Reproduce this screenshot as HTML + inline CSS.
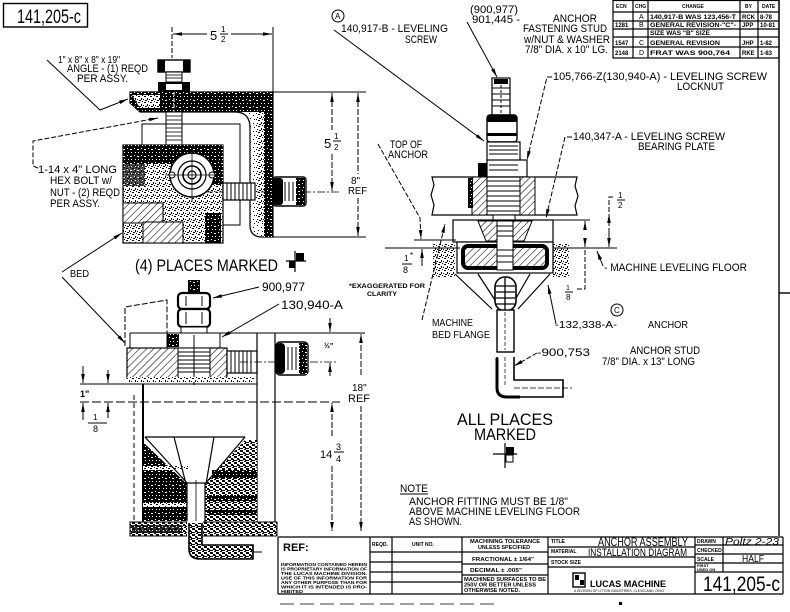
<!DOCTYPE html>
<html><head><meta charset="utf-8"><style>
html,body{margin:0;padding:0;background:#fff;}
svg{display:block;}
text{font-family:"Liberation Sans",sans-serif;fill:#000;}
.t{font-size:11px;}
.s{font-size:5px;font-weight:bold;}
</style></head><body>
<svg width="790" height="612" viewBox="0 0 790 612" xmlns="http://www.w3.org/2000/svg">
<defs>
<marker id="ar" viewBox="0 0 10 4" refX="10" refY="2" markerWidth="9" markerHeight="3.6" orient="auto-start-reverse" markerUnits="userSpaceOnUse"><path d="M0,0 L10,2 L0,4 z" fill="#000"/></marker>
<pattern id="hatch" width="5" height="5" patternUnits="userSpaceOnUse" patternTransform="rotate(45)"><rect width="5" height="5" fill="#fff"/><line x1="0" y1="0" x2="0" y2="5" stroke="#000" stroke-width="1.1"/></pattern>
<pattern id="spd" width="7" height="7" patternUnits="userSpaceOnUse"><rect width="7" height="7" fill="#000"/><rect x="1" y="1" width="1" height="1" fill="#fff"/><rect x="4" y="2" width="2" height="1" fill="#fff"/><rect x="2" y="5" width="1" height="1" fill="#fff"/><rect x="5" y="5" width="1" height="1" fill="#fff"/></pattern>
<pattern id="spm" width="6" height="6" patternUnits="userSpaceOnUse"><rect width="6" height="6" fill="#fff"/><rect x="0" y="0" width="2" height="1" fill="#000"/><rect x="3" y="2" width="1" height="2" fill="#000"/><rect x="1" y="4" width="2" height="1" fill="#000"/><rect x="5" y="3" width="1" height="1" fill="#000"/><rect x="4" y="5" width="1" height="1" fill="#000"/></pattern>
<pattern id="spx" width="6" height="6" patternUnits="userSpaceOnUse"><rect width="6" height="6" fill="#fff"/><rect x="0" y="0" width="3" height="2" fill="#000"/><rect x="3" y="2" width="2" height="2" fill="#000"/><rect x="0" y="4" width="3" height="1" fill="#000"/><rect x="5" y="3" width="1" height="2" fill="#000"/><rect x="4" y="5" width="2" height="1" fill="#000"/></pattern>
<pattern id="spl" width="8" height="8" patternUnits="userSpaceOnUse"><rect width="8" height="8" fill="#fff"/><rect x="1" y="1" width="1" height="1" fill="#000"/><rect x="5" y="3" width="1" height="1" fill="#000"/><rect x="2" y="6" width="1" height="1" fill="#000"/><rect x="6" y="7" width="1" height="1" fill="#000"/></pattern>
</defs>
<rect width="790" height="612" fill="#fff"/>

<!-- ID box -->
<rect x="3.5" y="3.5" width="84" height="23.5" fill="none" stroke="#000" stroke-width="1.4"/>
<text x="17" y="23" font-size="19" textLength="64" lengthAdjust="spacingAndGlyphs">141,205-c</text>

<!-- ================= TOP-LEFT VIEW ================= -->
<g fill="none" stroke="#000" stroke-width="1">
 <line x1="172" y1="27" x2="172" y2="58" stroke-dasharray="5,2"/>
 <line x1="273" y1="27" x2="273" y2="92"/>
 <line x1="173" y1="34" x2="207" y2="34" marker-start="url(#ar)"/>
 <line x1="231" y1="34" x2="272" y2="34" marker-end="url(#ar)"/>
 <line x1="220" y1="34" x2="228" y2="34"/>
</g>
<text x="210" y="40" font-size="13">5</text>
<text x="221" y="32" font-size="8">1</text>
<text x="221" y="42" font-size="8">2</text>

<rect x="158" y="60" width="32" height="12" fill="#fff" stroke="#000" stroke-width="1.4"/>
<rect x="158" y="60" width="7" height="12" fill="#000"/>
<rect x="183" y="60" width="7" height="12" fill="#000"/>
<rect x="166" y="72" width="16" height="10" fill="#fff" stroke="#000"/>
<g stroke="#000" stroke-width=".8"><line x1="166" y1="75" x2="182" y2="75"/><line x1="166" y1="78" x2="182" y2="78"/></g>
<rect x="158" y="82" width="32" height="10" fill="#000"/>
<rect x="166" y="84" width="16" height="6" fill="#fff"/>

<path d="M130,92 L273,92 L273,237 L262,237 Q250,237 250,225 L250,128 Q250,112 235,112 L140,112 L130,103 Z" fill="url(#spl)" stroke="#000" stroke-width="1.2"/>
<path d="M130,92 L273,92 L273,112 L140,112 L130,103 Z" fill="url(#spd)"/>
<path d="M132,95 L160,95 L160,108 L140,108 Z" fill="url(#spm)"/>
<rect x="264" y="92" width="9" height="145" fill="url(#spd)"/>
<rect x="256" y="112" width="8" height="110" fill="url(#spm)"/>
<line x1="174" y1="92" x2="174" y2="145" stroke="#fff" stroke-width="1" stroke-dasharray="4,2"/>

<rect x="166" y="112" width="16" height="33" fill="#fff" stroke="#000"/>
<g stroke="#000" stroke-width=".8"><line x1="166" y1="116" x2="182" y2="116"/><line x1="166" y1="120" x2="182" y2="120"/><line x1="166" y1="124" x2="182" y2="124"/><line x1="166" y1="128" x2="182" y2="128"/><line x1="166" y1="132" x2="182" y2="132"/><line x1="166" y1="136" x2="182" y2="136"/><line x1="166" y1="140" x2="182" y2="140"/></g>

<polyline points="142,145 142,124 240,124 240,225 223,225" fill="none" stroke="#000" stroke-width="1"/>

<rect x="123" y="145" width="100" height="98" fill="url(#spm)" stroke="#000" stroke-width="1.2"/>
<rect x="123" y="145" width="100" height="19" fill="url(#spd)"/>
<rect x="123" y="164" width="22" height="22" fill="url(#spd)" opacity=".7"/>
<rect x="200" y="160" width="23" height="25" fill="url(#spd)"/>
<rect x="123" y="203" width="40" height="20" fill="url(#hatch)" stroke="#000"/>
<rect x="143" y="222" width="40" height="21" fill="url(#hatch)" stroke="#000"/>
<rect x="205" y="213" width="16" height="30" fill="url(#spd)"/>
<circle cx="192" cy="175" r="22" fill="#fff" stroke="#000" stroke-width="1.4"/>
<circle cx="192" cy="175" r="14" fill="none" stroke="#000" stroke-width="1.2"/>
<circle cx="192" cy="175" r="9" fill="none" stroke="#000" stroke-width="1.6"/>
<circle cx="192" cy="175" r="4" fill="none" stroke="#000" stroke-width="1.2"/>
<circle cx="172" cy="175" r="3" fill="#fff" stroke="#000"/>
<circle cx="212" cy="175" r="3" fill="#fff" stroke="#000"/>
<g stroke="#000" stroke-width=".8"><line x1="192" y1="150" x2="192" y2="202"/><line x1="165" y1="175" x2="222" y2="175"/></g>

<line x1="205" y1="192" x2="340" y2="192" stroke="#000" stroke-width=".8" stroke-dasharray="8,2,2,2"/>
<rect x="223" y="183" width="32" height="17" fill="#fff" stroke="#000" stroke-width="1.2"/>
<g stroke="#000" stroke-width="1"><line x1="227" y1="183" x2="227" y2="200"/><line x1="231" y1="183" x2="231" y2="200"/><line x1="235" y1="183" x2="235" y2="200"/><line x1="239" y1="183" x2="239" y2="200"/><line x1="243" y1="183" x2="243" y2="200"/><line x1="247" y1="183" x2="247" y2="200"/><line x1="251" y1="183" x2="251" y2="200"/></g>
<rect x="273" y="177" width="33" height="29" rx="3" fill="#fff" stroke="#000" stroke-width="1.4"/>
<rect x="273" y="178" width="10" height="27" rx="3" fill="#000"/>
<rect x="296" y="178" width="9" height="27" fill="url(#spd)"/>
<g stroke="#000"><line x1="285" y1="182" x2="285" y2="201"/><line x1="289" y1="182" x2="289" y2="201"/><line x1="293" y1="182" x2="293" y2="201"/></g>

<g fill="none" stroke="#000" stroke-width="1">
 <line x1="273" y1="92" x2="366" y2="92"/>
 <line x1="273" y1="237" x2="366" y2="237"/>
 <line x1="332" y1="93" x2="332" y2="130" stroke-dasharray="6,2" marker-start="url(#ar)"/>
 <line x1="332" y1="154" x2="332" y2="191" stroke-dasharray="6,2" marker-end="url(#ar)"/>
 <line x1="358" y1="93" x2="358" y2="174" stroke-dasharray="6,2" marker-start="url(#ar)"/>
 <line x1="358" y1="198" x2="358" y2="236" stroke-dasharray="6,2" marker-end="url(#ar)"/>
 <line x1="333" y1="141" x2="341" y2="141"/>
</g>
<text x="324" y="148" font-size="13">5</text>
<text x="334" y="139" font-size="8">1</text>
<text x="334" y="150" font-size="8">2</text>
<text x="351" y="184" font-size="10">8"</text>
<text x="348" y="194" font-size="10" textLength="19" lengthAdjust="spacingAndGlyphs">REF</text>

<polyline points="47,60 100,110 128,99" fill="none" stroke="#000" stroke-width="1" marker-end="url(#ar)"/>
<text x="58" y="63" font-size="10" textLength="62" lengthAdjust="spacingAndGlyphs">1" x 8" x 8" x 19"</text>
<text x="67" y="72" class="t" textLength="81" lengthAdjust="spacingAndGlyphs">ANGLE - (1) REQD</text>
<text x="77" y="82" class="t" textLength="51" lengthAdjust="spacingAndGlyphs">PER ASSY.</text>
<polyline points="38,168 33,166 33,141 158,118" fill="none" stroke="#000" stroke-width="1" stroke-dasharray="5,2" marker-end="url(#ar)"/>
<text x="38" y="173" class="t" textLength="79" lengthAdjust="spacingAndGlyphs">1-14 x 4" LONG</text>
<text x="50" y="184" class="t" textLength="62" lengthAdjust="spacingAndGlyphs">HEX BOLT w/</text>
<text x="50" y="196" class="t" textLength="70" lengthAdjust="spacingAndGlyphs">NUT - (2) REQD</text>
<text x="50" y="207" class="t" textLength="50" lengthAdjust="spacingAndGlyphs">PER ASSY.</text>
<text x="135" y="271" font-size="17" textLength="143" lengthAdjust="spacingAndGlyphs">(4) PLACES MARKED</text>
<g stroke="#000" stroke-width="1.2"><line x1="286" y1="261" x2="306" y2="261"/><line x1="295" y1="251" x2="295" y2="272"/></g>
<rect x="296" y="253" width="8" height="8" fill="#000"/>
<rect x="289" y="261" width="6" height="7" fill="#000"/>
<text x="70" y="277" font-size="10" textLength="19" lengthAdjust="spacingAndGlyphs">BED</text>
<line x1="62" y1="272" x2="122" y2="233" stroke="#000" marker-end="url(#ar)"/>
<line x1="62" y1="277" x2="125" y2="343" stroke="#000" marker-end="url(#ar)"/>

<!-- ================= BOTTOM-LEFT VIEW ================= -->
<rect x="188" y="280" width="12" height="14" fill="url(#spd)"/>
<rect x="178" y="293" width="32" height="16" rx="4" fill="#fff" stroke="#000" stroke-width="2.2"/>
<rect x="178" y="309" width="32" height="18" rx="4" fill="#fff" stroke="#000" stroke-width="2.2"/>
<g stroke="#000"><line x1="186" y1="296" x2="186" y2="306"/><line x1="202" y1="296" x2="202" y2="306"/><line x1="186" y1="312" x2="186" y2="324"/><line x1="202" y1="312" x2="202" y2="324"/></g>
<rect x="181" y="327" width="26" height="6" fill="#fff" stroke="#000"/>
<rect x="167" y="333" width="53" height="15" fill="#fff" stroke="#000"/>
<rect x="167" y="334" width="12" height="13" fill="url(#spd)"/>
<g fill="none" stroke="#000" stroke-width="1">
 <line x1="130" y1="333" x2="277" y2="333"/>
 <polyline points="125,346 125,307 167,300 167,333" stroke-dasharray="6,2"/>
 <line x1="130" y1="333" x2="130" y2="348"/>
</g>
<rect x="127" y="348" width="100" height="30" fill="url(#hatch)" stroke="#000" stroke-width="1.2"/>
<rect x="178" y="348" width="32" height="30" fill="#fff" stroke="#000"/>
<g stroke="#000" stroke-width="1"><line x1="178" y1="352" x2="210" y2="352"/><line x1="178" y1="356" x2="210" y2="356"/><line x1="178" y1="360" x2="210" y2="360"/><line x1="178" y1="364" x2="210" y2="364"/><line x1="178" y1="368" x2="210" y2="368"/><line x1="178" y1="372" x2="210" y2="372"/><line x1="194" y1="335" x2="194" y2="385"/></g>
<rect x="127" y="377" width="128" height="5" fill="url(#spm)"/>
<rect x="227" y="351" width="30" height="22" fill="#fff" stroke="#000" stroke-width="1.2"/>
<g stroke="#000"><line x1="231" y1="351" x2="231" y2="373"/><line x1="235" y1="351" x2="235" y2="373"/><line x1="239" y1="351" x2="239" y2="373"/><line x1="243" y1="351" x2="243" y2="373"/><line x1="247" y1="351" x2="247" y2="373"/><line x1="251" y1="351" x2="251" y2="373"/></g>
<line x1="240" y1="362" x2="338" y2="362" stroke="#000" stroke-width=".8" stroke-dasharray="8,2,2,2"/>
<g stroke="#000" stroke-width="1.2"><line x1="257" y1="333" x2="257" y2="522"/><line x1="275" y1="333" x2="275" y2="522"/></g>
<rect x="276" y="342" width="32" height="33" rx="4" fill="#fff" stroke="#000" stroke-width="1.4"/>
<rect x="276" y="343" width="9" height="31" rx="4" fill="#000"/>
<rect x="299" y="343" width="8" height="31" fill="url(#spd)"/>
<g stroke="#000"><line x1="288" y1="347" x2="288" y2="370"/><line x1="292" y1="347" x2="292" y2="370"/><line x1="296" y1="347" x2="296" y2="370"/></g>
<g fill="none" stroke="#000">
 <line x1="143" y1="384" x2="143" y2="522" stroke-width="2"/>
 <line x1="134" y1="395" x2="134" y2="520" stroke-dasharray="5,3"/>
 <line x1="80" y1="384" x2="257" y2="384"/>
 <line x1="80" y1="402" x2="340" y2="402" stroke-dasharray="9,3"/>
</g>
<polygon points="143,442 188,485 188,521 143,521" fill="url(#spd)"/>
<rect x="143" y="466" width="45" height="4" fill="url(#spm)"/>
<rect x="143" y="503" width="45" height="4" fill="url(#spm)"/>
<polygon points="245,440 205,483 205,521 257,521 257,440" fill="url(#spx)"/>
<rect x="212" y="470" width="45" height="8" fill="url(#spd)"/>
<rect x="207" y="495" width="50" height="6" fill="url(#spd)"/>
<rect x="207" y="510" width="50" height="5" fill="url(#spd)"/>
<g fill="none" stroke="#000" stroke-width="1.2">
 <line x1="145" y1="437" x2="245" y2="437"/>
 <line x1="145" y1="437" x2="188" y2="484"/>
 <line x1="245" y1="437" x2="205" y2="484"/>
 <line x1="174" y1="437" x2="186" y2="484"/>
 <line x1="214" y1="437" x2="206" y2="484"/>
 <rect x="187" y="483" width="18" height="40" fill="#fff"/>
 <line x1="196" y1="480" x2="196" y2="530" stroke-width=".8"/>
</g>
<rect x="130" y="522" width="147" height="14" fill="url(#spx)" stroke="#000"/>
<rect x="132" y="525" width="50" height="8" fill="url(#spd)" opacity=".8"/>
<rect x="187" y="521" width="16" height="16" fill="#fff"/>
<path d="M189,523 L189,549 Q189,559 200,559 L253,559 L253,545 L202,545 L202,523" fill="url(#spx)" stroke="#000" stroke-width="1.6"/>
<line x1="253" y1="552" x2="262" y2="552" stroke="#000"/>
<line x1="259" y1="287" x2="213" y2="298" stroke="#000" marker-end="url(#ar)"/>
<text x="262" y="291" font-size="12" textLength="43" lengthAdjust="spacingAndGlyphs">900,977</text>
<line x1="279" y1="304" x2="222" y2="337" stroke="#000" marker-end="url(#ar)"/>
<text x="281" y="309" font-size="12" textLength="62" lengthAdjust="spacingAndGlyphs">130,940-A</text>
<g fill="none" stroke="#000" stroke-width="1">
 <line x1="277" y1="333" x2="365" y2="333"/>
 <line x1="330" y1="318" x2="330" y2="332" marker-end="url(#ar)"/>
 <line x1="330" y1="376" x2="330" y2="363" marker-end="url(#ar)"/>
 <line x1="361" y1="375" x2="361" y2="334" stroke-dasharray="6,2" marker-end="url(#ar)"/>
 <line x1="361" y1="406" x2="361" y2="531" stroke-dasharray="6,2" marker-end="url(#ar)"/>
 <line x1="332" y1="436" x2="332" y2="403" stroke-dasharray="6,2" marker-end="url(#ar)"/>
 <line x1="332" y1="466" x2="332" y2="531" stroke-dasharray="6,2" marker-end="url(#ar)"/>
 <line x1="334" y1="452" x2="344" y2="452"/>
 <line x1="83" y1="366" x2="83" y2="383" marker-end="url(#ar)"/>
 <line x1="83" y1="420" x2="83" y2="403" marker-end="url(#ar)"/>
 <line x1="108" y1="370" x2="108" y2="383" marker-end="url(#ar)"/>
 <line x1="108" y1="418" x2="108" y2="403" marker-end="url(#ar)"/>
 <line x1="88" y1="423" x2="107" y2="423"/>
</g>
<text x="324" y="348" font-size="7" font-weight="bold">½"</text>
<text x="352" y="391" font-size="10">18"</text>
<text x="348" y="402" font-size="11" textLength="22" lengthAdjust="spacingAndGlyphs">REF</text>
<text x="320" y="458" font-size="11">14</text>
<text x="336" y="450" font-size="9">3</text>
<text x="336" y="462" font-size="9">4</text>
<text x="80" y="397" font-size="9" font-weight="bold">1"</text>
<text x="93" y="420" font-size="8">1</text>
<text x="93" y="432" font-size="9">8</text>

<!-- ================= RIGHT (ANCHOR) VIEW ================= -->
<rect x="492" y="78" width="18" height="37" fill="#fff" stroke="#000" stroke-width="1.2"/>
<g stroke="#000"><line x1="492" y1="88" x2="510" y2="88"/><line x1="492" y1="94" x2="510" y2="94"/><line x1="492" y1="100" x2="510" y2="100"/><line x1="492" y1="106" x2="510" y2="106"/><line x1="501" y1="80" x2="501" y2="115" stroke-dasharray="3,2"/></g>
<rect x="494" y="79" width="14" height="5" fill="#000"/>
<rect x="487" y="115" width="30" height="27" rx="3" fill="#fff" stroke="#000" stroke-width="1.4"/>
<rect x="487" y="115" width="30" height="7" rx="2" fill="#000"/>
<rect x="487" y="133" width="30" height="3" fill="#000"/>
<rect x="487" y="142" width="33" height="35" fill="#fff" stroke="#000" stroke-width="1.2"/>
<rect x="487" y="160" width="40" height="17" fill="#fff" stroke="#000" stroke-width="1.2"/>
<rect x="478" y="163" width="9" height="14" fill="#000"/>
<g stroke="#000"><line x1="489" y1="146" x2="518" y2="146"/><line x1="489" y1="150" x2="518" y2="150"/><line x1="489" y1="154" x2="518" y2="154"/><line x1="489" y1="165" x2="518" y2="165"/><line x1="489" y1="170" x2="518" y2="170"/></g>
<path d="M432,177 L577,177 L575,186 L578,196 L575,206 L577,215 L432,215 L434,205 L431,195 L434,185 Z" fill="#fff" stroke="#000" stroke-width="1.2"/>
<rect x="472" y="177" width="15" height="38" fill="url(#hatch)" stroke="#000"/>
<rect x="520" y="177" width="15" height="38" fill="url(#hatch)" stroke="#000"/>
<rect x="468" y="178" width="5" height="30" fill="url(#spd)"/>
<g stroke="#000"><line x1="487" y1="181" x2="520" y2="181"/><line x1="487" y1="186" x2="520" y2="186"/><line x1="487" y1="191" x2="520" y2="191"/><line x1="487" y1="196" x2="520" y2="196"/><line x1="487" y1="201" x2="520" y2="201"/><line x1="487" y1="206" x2="520" y2="206"/><line x1="487" y1="211" x2="520" y2="211"/></g>
<rect x="493" y="215" width="22" height="6" fill="#fff" stroke="#000"/>
<rect x="453" y="220" width="100" height="22" fill="#fff" stroke="#000" stroke-width="1.2"/>
<polygon points="478,221 532,221 524,241 486,241" fill="url(#hatch)" stroke="#000"/>
<rect x="433" y="244" width="22" height="34" fill="url(#spm)"/>
<rect x="553" y="244" width="16" height="34" fill="url(#spm)"/>
<rect x="457" y="242" width="96" height="31" fill="#fff" stroke="#000" stroke-width="1.2"/>
<rect x="463" y="246" width="84" height="22" rx="5" fill="url(#hatch)" stroke="#000" stroke-width="4"/>
<rect x="497" y="221" width="16" height="49" fill="#fff" stroke="#000"/>
<g stroke="#000"><line x1="497" y1="226" x2="513" y2="226"/><line x1="497" y1="231" x2="513" y2="231"/><line x1="497" y1="236" x2="513" y2="236"/><line x1="497" y1="250" x2="513" y2="250"/><line x1="497" y1="256" x2="513" y2="256"/><line x1="497" y1="262" x2="513" y2="262"/></g>
<g fill="none" stroke="#000" stroke-width="1.2">
 <line x1="455" y1="274" x2="492" y2="309"/>
 <line x1="550" y1="274" x2="518" y2="309"/>
 <line x1="478" y1="274" x2="495" y2="300"/>
 <line x1="530" y1="274" x2="515" y2="300"/>
</g>
<rect x="495" y="277" width="21" height="34" rx="10" fill="#fff" stroke="#000" stroke-width="1.6"/>
<g stroke="#000" stroke-width="1.3"><line x1="496" y1="286" x2="515" y2="286"/><line x1="496" y1="292" x2="515" y2="292"/><line x1="496" y1="298" x2="515" y2="298"/><line x1="496" y1="304" x2="515" y2="304"/><line x1="505" y1="278" x2="505" y2="310"/></g>
<rect x="497" y="310" width="17" height="42" fill="#fff" stroke="#000" stroke-width="1.4"/>
<line x1="505" y1="312" x2="505" y2="350" stroke="#000" stroke-width=".7" stroke-dasharray="4,2"/>
<path d="M497,357 L497,387 Q497,397 507,397 L563,397 L563,380 L514,380 L514,357" fill="#fff" stroke="#000" stroke-width="1.6"/>
<path d="M497,358 L497,388 Q497,397 507,397 L520,397" fill="none" stroke="#000" stroke-width="3"/>
<line x1="514" y1="388" x2="572" y2="388" stroke="#000" stroke-width=".8" stroke-dasharray="6,2"/>
<line x1="505" y1="357" x2="505" y2="385" stroke="#000" stroke-width=".7" stroke-dasharray="4,2"/>

<circle cx="338" cy="16" r="6" fill="none" stroke="#000"/>
<text x="335" y="19" font-size="8">A</text>
<line x1="334" y1="30" x2="484" y2="141" stroke="#000" marker-end="url(#ar)"/>
<text x="341" y="32" class="t" textLength="107" lengthAdjust="spacingAndGlyphs">140,917-B - LEVELING</text>
<text x="405" y="43" class="t" textLength="32" lengthAdjust="spacingAndGlyphs">SCREW</text>
<line x1="467" y1="22" x2="497" y2="77" stroke="#000" marker-end="url(#ar)"/>
<text x="470" y="13" class="t" textLength="48" lengthAdjust="spacingAndGlyphs">(900,977)</text>
<text x="472" y="23" class="t" textLength="48" lengthAdjust="spacingAndGlyphs">901,445 -</text>
<text x="553" y="22" class="t" textLength="44" lengthAdjust="spacingAndGlyphs">ANCHOR</text>
<text x="523" y="32" class="t" textLength="84" lengthAdjust="spacingAndGlyphs">FASTENING STUD</text>
<text x="524" y="43" class="t" textLength="86" lengthAdjust="spacingAndGlyphs">w/NUT &amp; WASHER</text>
<text x="525" y="53" class="t" textLength="83" lengthAdjust="spacingAndGlyphs">7/8" DIA. x 10" LG.</text>
<polyline points="552,77 547,77 527,160" fill="none" stroke="#000" stroke-dasharray="5,2" marker-end="url(#ar)"/>
<text x="553" y="80" class="t" textLength="214" lengthAdjust="spacingAndGlyphs">105,766-Z(130,940-A) - LEVELING SCREW</text>
<text x="677" y="90" class="t" textLength="47" lengthAdjust="spacingAndGlyphs">LOCKNUT</text>
<polyline points="572,137 565,137 546,218" fill="none" stroke="#000" stroke-dasharray="5,2" marker-end="url(#ar)"/>
<text x="573" y="140" class="t" textLength="152" lengthAdjust="spacingAndGlyphs">140,347-A - LEVELING SCREW</text>
<text x="638" y="150" class="t" textLength="77" lengthAdjust="spacingAndGlyphs">BEARING PLATE</text>
<polyline points="378,144 420,218 421,239" fill="none" stroke="#000" stroke-dasharray="5,2" marker-end="url(#ar)"/>
<text x="390" y="148" class="t" textLength="32" lengthAdjust="spacingAndGlyphs">TOP OF</text>
<text x="388" y="158" class="t" textLength="40" lengthAdjust="spacingAndGlyphs">ANCHOR</text>
<g fill="none" stroke="#000" stroke-width="1">
 <line x1="414" y1="240" x2="456" y2="240"/>
 <line x1="385" y1="248" x2="460" y2="248"/>
 <line x1="422" y1="266" x2="422" y2="249" marker-end="url(#ar)"/>
 <line x1="402" y1="264" x2="412" y2="264"/>
 <line x1="553" y1="220" x2="590" y2="220"/>
 <line x1="553" y1="248" x2="617" y2="248"/>
 <line x1="585" y1="230" x2="585" y2="221" marker-end="url(#ar)"/>
 <line x1="585" y1="238" x2="585" y2="247" marker-end="url(#ar)"/>
 <polyline points="613,197 609,197 609,248" stroke-dasharray="5,2"/>
 <line x1="609" y1="225" x2="609" y2="214" marker-end="url(#ar)"/>
 <line x1="609" y1="232" x2="609" y2="247" marker-end="url(#ar)"/>
 <polyline points="585,250 585,289 576,289" stroke-dasharray="5,2"/>
 <line x1="603" y1="266" x2="597" y2="251" marker-end="url(#ar)"/>
 <line x1="617" y1="200" x2="625" y2="200"/>
 <line x1="565" y1="292" x2="573" y2="292"/>
</g>
<text x="404" y="261" font-size="8">1</text>
<text x="410" y="258" font-size="8">*</text>
<text x="403" y="273" font-size="9">8</text>
<text x="618" y="198" font-size="8">1</text>
<text x="618" y="208" font-size="8">2</text>
<text x="566" y="290" font-size="7">1</text>
<text x="566" y="300" font-size="8">8</text>
<text x="349" y="288" font-size="6" font-weight="bold" textLength="76" lengthAdjust="spacingAndGlyphs">*EXAGGERATED FOR</text>
<text x="367" y="296" font-size="6" font-weight="bold" textLength="30" lengthAdjust="spacingAndGlyphs">CLARITY</text>
<text x="604" y="271" class="t" textLength="143" lengthAdjust="spacingAndGlyphs">- MACHINE LEVELING FLOOR</text>
<circle cx="617" cy="310" r="6" fill="none" stroke="#000"/>
<text x="614" y="313" font-size="8">C</text>
<line x1="556" y1="324" x2="548" y2="285" stroke="#000" marker-end="url(#ar)"/>
<text x="555" y="328" font-size="10" textLength="62" lengthAdjust="spacingAndGlyphs">-132,338-A-</text>
<text x="648" y="328" font-size="10" textLength="40" lengthAdjust="spacingAndGlyphs">ANCHOR</text>
<line x1="422" y1="320" x2="445" y2="224" stroke="#000" stroke-dasharray="5,2" marker-end="url(#ar)"/>
<text x="432" y="326" font-size="10" textLength="41" lengthAdjust="spacingAndGlyphs">MACHINE</text>
<text x="432" y="338" font-size="10" textLength="58" lengthAdjust="spacingAndGlyphs">BED FLANGE</text>
<line x1="537" y1="353" x2="514" y2="366" stroke="#000" stroke-dasharray="5,2" marker-end="url(#ar)"/>
<text x="537" y="356" class="t" textLength="53" lengthAdjust="spacingAndGlyphs">-900,753</text>
<text x="630" y="354" class="t" textLength="70" lengthAdjust="spacingAndGlyphs">ANCHOR STUD</text>
<text x="602" y="365" class="t" textLength="93" lengthAdjust="spacingAndGlyphs">7/8" DIA. x 13" LONG</text>
<text x="457" y="425" font-size="17" textLength="96" lengthAdjust="spacingAndGlyphs">ALL PLACES</text>
<text x="474" y="440" font-size="17" textLength="62" lengthAdjust="spacingAndGlyphs">MARKED</text>
<g stroke="#000" stroke-width="1.2"><line x1="493" y1="454" x2="517" y2="454"/><line x1="505" y1="443" x2="505" y2="468"/></g>
<rect x="506" y="447" width="8" height="8" fill="#000"/>
<rect x="506" y="455" width="7" height="7" fill="none" stroke="#000"/>
<text x="400" y="492" class="t" textLength="28" lengthAdjust="spacingAndGlyphs">NOTE</text>
<line x1="400" y1="494" x2="428" y2="494" stroke="#000"/>
<text x="409" y="505" class="t" textLength="159" lengthAdjust="spacingAndGlyphs">ANCHOR FITTING MUST BE 1/8"</text>
<text x="409" y="515" class="t" textLength="171" lengthAdjust="spacingAndGlyphs">ABOVE MACHINE LEVELING FLOOR</text>
<text x="409" y="525" class="t" textLength="53" lengthAdjust="spacingAndGlyphs">AS SHOWN.</text>

<line x1="779" y1="0" x2="779" y2="536" stroke="#000" stroke-width="1.4"/>
<line x1="779" y1="293" x2="790" y2="293" stroke="#000" stroke-width="1.4"/>

<g fill="none" stroke="#000" stroke-width="1.2">
 <rect x="613" y="0.5" width="166" height="57.5"/>
 <line x1="613" y1="12" x2="779" y2="12"/>
 <line x1="613" y1="21" x2="779" y2="21"/>
 <line x1="613" y1="29" x2="779" y2="29"/>
 <line x1="613" y1="37" x2="779" y2="37"/>
 <line x1="613" y1="47" x2="779" y2="47"/>
 <line x1="633" y1="0" x2="633" y2="58"/>
 <line x1="648" y1="0" x2="648" y2="58"/>
 <line x1="740" y1="0" x2="740" y2="58"/>
 <line x1="758" y1="0" x2="758" y2="58"/>
</g>
<text x="616" y="8" class="s">ECN</text><text x="635" y="8" class="s">CHG</text><text x="682" y="8" class="s">CHANGE</text><text x="745" y="8" class="s">BY</text><text x="762" y="8" class="s">DATE</text>
<text x="639" y="19" font-size="7">A</text><text x="650" y="19" font-size="6" font-weight="bold" textLength="86" lengthAdjust="spacingAndGlyphs">140,917-B WAS 123,456-T</text><text x="742" y="19" font-size="6" font-weight="bold">RCK</text><text x="760" y="19" font-size="6" font-weight="bold">8-78</text>
<text x="615" y="27" font-size="6" font-weight="bold">1281</text><text x="639" y="27" font-size="7">B</text><text x="650" y="27" font-size="6" font-weight="bold" textLength="86" lengthAdjust="spacingAndGlyphs">GENERAL REVISION-"C"-</text><text x="742" y="27" font-size="6" font-weight="bold">JPP</text><text x="760" y="27" font-size="6" font-weight="bold">10-81</text>
<text x="650" y="35" font-size="6" font-weight="bold" textLength="60" lengthAdjust="spacingAndGlyphs">SIZE WAS "B" SIZE</text>
<text x="615" y="45" font-size="6" font-weight="bold">1547</text><text x="639" y="45" font-size="7">C</text><text x="650" y="45" font-size="6" font-weight="bold" textLength="70" lengthAdjust="spacingAndGlyphs">GENERAL REVISION</text><text x="742" y="45" font-size="6" font-weight="bold">JHP</text><text x="760" y="45" font-size="6" font-weight="bold">1-82</text>
<text x="615" y="55" font-size="6" font-weight="bold">2148</text><text x="639" y="55" font-size="7">D</text><text x="650" y="55" font-size="6" font-weight="bold" textLength="80" lengthAdjust="spacingAndGlyphs">FRAT WAS 900,764</text><text x="742" y="55" font-size="6" font-weight="bold">RKE</text><text x="760" y="55" font-size="6" font-weight="bold">1-83</text>

<g fill="none" stroke="#000" stroke-width="1.2">
 <line x1="278" y1="537" x2="783" y2="537"/>
 <line x1="278" y1="594" x2="783" y2="594"/>
 <line x1="278" y1="537" x2="278" y2="594"/>
 <line x1="783" y1="537" x2="783" y2="594"/>
 <line x1="370" y1="537" x2="370" y2="594"/>
 <line x1="392" y1="537" x2="392" y2="594"/>
 <line x1="462" y1="537" x2="462" y2="594"/>
 <line x1="548" y1="537" x2="548" y2="594"/>
 <line x1="695" y1="537" x2="695" y2="594"/>
 <line x1="723" y1="537" x2="723" y2="572"/>
 <line x1="370" y1="552" x2="548" y2="552"/>
 <line x1="370" y1="562" x2="462" y2="562"/>
 <line x1="370" y1="572" x2="462" y2="572"/>
 <line x1="370" y1="582" x2="462" y2="582"/>
 <line x1="462" y1="564" x2="548" y2="564"/>
 <line x1="462" y1="575" x2="548" y2="575"/>
 <line x1="548" y1="547" x2="695" y2="547"/>
 <line x1="548" y1="557" x2="695" y2="557"/>
 <line x1="548" y1="567" x2="695" y2="567"/>
 <line x1="695" y1="545" x2="783" y2="545"/>
 <line x1="695" y1="554" x2="783" y2="554"/>
 <line x1="695" y1="563" x2="783" y2="563"/>
 <line x1="695" y1="572" x2="783" y2="572"/>
</g>
<text x="283" y="551" font-size="11" font-weight="bold">REF:</text>
<g font-size="4.2" font-weight="bold">
<text x="281" y="566" textLength="86" lengthAdjust="spacingAndGlyphs">INFORMATION CONTAINED HEREIN</text>
<text x="281" y="570.5" textLength="86" lengthAdjust="spacingAndGlyphs">IS PROPRIETARY INFORMATION OF</text>
<text x="281" y="575" textLength="86" lengthAdjust="spacingAndGlyphs">THE LUCAS MACHINE DIVISION.</text>
<text x="281" y="579.5" textLength="86" lengthAdjust="spacingAndGlyphs">USE OF THIS INFORMATION FOR</text>
<text x="281" y="584" textLength="86" lengthAdjust="spacingAndGlyphs">ANY OTHER PURPOSE THAN FOR</text>
<text x="281" y="588.5" textLength="86" lengthAdjust="spacingAndGlyphs">WHICH IT IS INTENDED IS PRO-</text>
<text x="281" y="593" textLength="22" lengthAdjust="spacingAndGlyphs">HIBITED</text>
</g>
<text x="372" y="546" class="s">REQD.</text>
<text x="412" y="546" class="s">UNIT NO.</text>
<text x="470" y="543" class="s" textLength="70" lengthAdjust="spacingAndGlyphs">MACHINING TOLERANCE</text>
<text x="478" y="549" class="s" textLength="52" lengthAdjust="spacingAndGlyphs">UNLESS SPECIFIED</text>
<text x="472" y="561" class="s" textLength="62" lengthAdjust="spacingAndGlyphs">FRACTIONAL ± 1/64"</text>
<text x="470" y="572" class="s" textLength="52" lengthAdjust="spacingAndGlyphs">DECIMAL ± .005"</text>
<text x="464" y="581" class="s" textLength="82" lengthAdjust="spacingAndGlyphs">MACHINED SURFACES TO BE</text>
<text x="464" y="586.5" class="s" textLength="72" lengthAdjust="spacingAndGlyphs">250V OR BETTER UNLESS</text>
<text x="464" y="592" class="s" textLength="56" lengthAdjust="spacingAndGlyphs">OTHERWISE NOTED.</text>
<text x="551" y="543" class="s">TITLE</text>
<text x="598" y="546" font-size="12" textLength="90" lengthAdjust="spacingAndGlyphs">ANCHOR ASSEMBLY</text>
<text x="551" y="553" class="s">MATERIAL</text>
<text x="588" y="556" font-size="11" textLength="99" lengthAdjust="spacingAndGlyphs">INSTALLATION DIAGRAM</text>
<text x="551" y="564" class="s">STOCK SIZE</text>
<rect x="573" y="573" width="12" height="14" fill="none" stroke="#000" stroke-width="1.4"/>
<rect x="575" y="575" width="4" height="5" fill="#000"/>
<rect x="580" y="580" width="4" height="5" fill="#000"/>
<text x="590" y="587" font-size="9" font-weight="bold" textLength="76" lengthAdjust="spacingAndGlyphs">LUCAS MACHINE</text>
<text x="574" y="592" font-size="3.5" textLength="90" lengthAdjust="spacingAndGlyphs">A DIVISION OF LITTON INDUSTRIES, CLEVELAND, OHIO</text>
<text x="697" y="543" class="s">DRAWN</text>
<text x="725" y="545" font-size="10" font-style="italic" textLength="54" lengthAdjust="spacingAndGlyphs">Poltz 2-23</text>
<text x="697" y="552" class="s">CHECKED</text>
<text x="697" y="561" class="s">SCALE</text>
<text x="742" y="562" font-size="10" textLength="22" lengthAdjust="spacingAndGlyphs">HALF</text>
<text x="697" y="567" font-size="4" font-weight="bold">FIRST</text>
<text x="697" y="571" font-size="4" font-weight="bold">USED ON</text>
<text x="703" y="591" font-size="21" textLength="77" lengthAdjust="spacingAndGlyphs">141,205-c</text>

<line x1="280" y1="604" x2="500" y2="604" stroke="#000" stroke-width=".8" stroke-dasharray="14,6"/>
<rect x="619" y="602" width="3" height="3" fill="#000"/>
</svg>
</body></html>
